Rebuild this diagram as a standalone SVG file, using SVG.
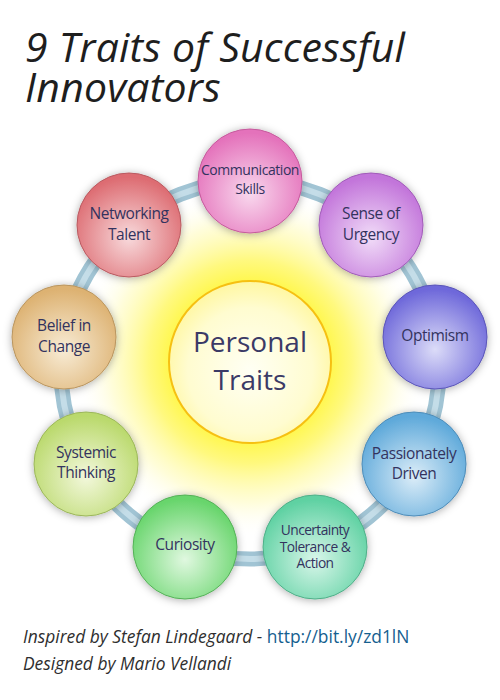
<svg xmlns="http://www.w3.org/2000/svg" width="500" height="700" viewBox="0 0 500 700">
<style>
.t{font-family:"Open Sans","Noto Sans","DejaVu Sans",sans-serif;font-size:15.5px;fill:#33335e;text-anchor:middle;letter-spacing:-0.45px}
.ts{font-size:14px}
.tu{font-size:13.8px;letter-spacing:-0.6px}
.title{font-family:"Open Sans","DejaVu Sans",sans-serif;font-style:italic;font-size:41px;fill:#1e1e1e;letter-spacing:0.2px}
.foot{font-family:"Open Sans","DejaVu Sans",sans-serif;font-style:italic;font-size:17.4px;fill:#2e2e2e}
.url{font-style:normal;fill:#15608f}
.center{font-family:"Open Sans","DejaVu Sans",sans-serif;font-size:28px;fill:#3b3a66;text-anchor:middle}
.node{filter:url(#sh)}
</style>
<defs>
<filter id="sh" x="-30%" y="-30%" width="160%" height="160%">
<feDropShadow dx="0" dy="1" stdDeviation="4.5" flood-color="#000" flood-opacity="0.32"/>
</filter>
<radialGradient id="glow" cx="250" cy="362" r="175" gradientUnits="userSpaceOnUse">
<stop offset="0.45" stop-color="#fff74a"/>
<stop offset="0.58" stop-color="#fff870" stop-opacity="0.9"/>
<stop offset="0.8" stop-color="#fffbb4" stop-opacity="0.5"/>
<stop offset="1" stop-color="#ffffff" stop-opacity="0"/>
</radialGradient>
<radialGradient id="core" cx="50%" cy="55%" r="55%">
<stop offset="0" stop-color="#fffff4"/>
<stop offset="0.7" stop-color="#fffcd0"/>
<stop offset="1" stop-color="#fff7a0"/>
</radialGradient>
<radialGradient id="g1" cx="50%" cy="62%" r="58%"><stop offset="0" stop-color="#f9d9ee"/><stop offset="1" stop-color="#e472bb"/></radialGradient>
<radialGradient id="g2" cx="50%" cy="62%" r="58%"><stop offset="0" stop-color="#f1dcf8"/><stop offset="1" stop-color="#c274da"/></radialGradient>
<radialGradient id="g3" cx="50%" cy="62%" r="58%"><stop offset="0" stop-color="#dcdcf8"/><stop offset="1" stop-color="#6e68da"/></radialGradient>
<radialGradient id="g4" cx="50%" cy="62%" r="58%"><stop offset="0" stop-color="#dcedf8"/><stop offset="1" stop-color="#5ea9da"/></radialGradient>
<radialGradient id="g5" cx="50%" cy="62%" r="58%"><stop offset="0" stop-color="#d9f6ea"/><stop offset="1" stop-color="#5ed1a2"/></radialGradient>
<radialGradient id="g6" cx="50%" cy="62%" r="58%"><stop offset="0" stop-color="#e0f8e0"/><stop offset="1" stop-color="#68d56c"/></radialGradient>
<radialGradient id="g7" cx="50%" cy="62%" r="58%"><stop offset="0" stop-color="#f3f8dc"/><stop offset="1" stop-color="#bad96c"/></radialGradient>
<radialGradient id="g8" cx="50%" cy="62%" r="58%"><stop offset="0" stop-color="#f8ecd6"/><stop offset="1" stop-color="#ddb272"/></radialGradient>
<radialGradient id="g9" cx="50%" cy="62%" r="58%"><stop offset="0" stop-color="#f8dadc"/><stop offset="1" stop-color="#dd6c72"/></radialGradient>
</defs>

<rect width="500" height="700" fill="#ffffff"/>

<text class="title" x="25" y="62">9 Traits of Successful</text>
<text class="title" x="25" y="102">Innovators</text>

<circle cx="250" cy="362" r="175" fill="url(#glow)"/>

<g id="connectors">
<circle cx="250" cy="370" r="189" fill="none" stroke="#a1c4d4" stroke-width="15"/>
<circle cx="250" cy="370" r="189" fill="none" stroke="#c4dde8" stroke-width="6"/>
</g>

<g id="personal-traits">
<circle cx="250" cy="362" r="81" fill="url(#core)" stroke="#f6c012" stroke-width="2"/>
<text class="center" x="250" y="352">Personal</text>
<text class="center" x="250" y="390">Traits</text>
</g>

<g id="communication-skills">
<circle class="node" cx="250" cy="181" r="52" fill="url(#g1)" stroke="#c55a9c" stroke-width="1"/>
<text class="t ts" x="250" y="175">Communication</text>
<text class="t ts" x="250" y="194">Skills</text>
</g>
<g id="sense-of-urgency">
<circle class="node" cx="371" cy="225" r="52" fill="url(#g2)" stroke="#a05cb8" stroke-width="1"/>
<text class="t" x="371" y="219">Sense of</text>
<text class="t" x="371" y="240">Urgency</text>
</g>
<g id="optimism">
<circle class="node" cx="435" cy="337" r="52" fill="url(#g3)" stroke="#5a55b8" stroke-width="1"/>
<text class="t" x="435" y="341">Optimism</text>
</g>
<g id="passionately-driven">
<circle class="node" cx="414" cy="464" r="52" fill="url(#g4)" stroke="#4d8cb8" stroke-width="1"/>
<text class="t" x="414" y="459">Passionately</text>
<text class="t" x="414" y="479">Driven</text>
</g>
<g id="uncertainty-tolerance-action">
<circle class="node" cx="315" cy="547" r="52" fill="url(#g5)" stroke="#4fae88" stroke-width="1"/>
<text class="t tu" x="315" y="535">Uncertainty</text>
<text class="t tu" x="315" y="552">Tolerance &amp;</text>
<text class="t tu" x="315" y="568">Action</text>
</g>
<g id="curiosity">
<circle class="node" cx="185" cy="547" r="52" fill="url(#g6)" stroke="#55b058" stroke-width="1"/>
<text class="t" x="185" y="550">Curiosity</text>
</g>
<g id="systemic-thinking">
<circle class="node" cx="86" cy="464" r="52" fill="url(#g7)" stroke="#9bb65a" stroke-width="1"/>
<text class="t" x="86" y="458">Systemic</text>
<text class="t" x="86" y="478">Thinking</text>
</g>
<g id="belief-in-change">
<circle class="node" cx="64" cy="337" r="52" fill="url(#g8)" stroke="#b9955f" stroke-width="1"/>
<text class="t" x="64" y="331">Belief in</text>
<text class="t" x="64" y="352">Change</text>
</g>
<g id="networking-talent">
<circle class="node" cx="129" cy="225" r="52" fill="url(#g9)" stroke="#b95a60" stroke-width="1"/>
<text class="t" x="129" y="219">Networking</text>
<text class="t" x="129" y="240">Talent</text>
</g>

<text class="foot" x="23" y="643">Inspired by Stefan Lindegaard - <tspan class="url">http://bit.ly/zd1lN</tspan></text>
<text class="foot" x="23" y="670">Designed by Mario Vellandi</text>
</svg>
